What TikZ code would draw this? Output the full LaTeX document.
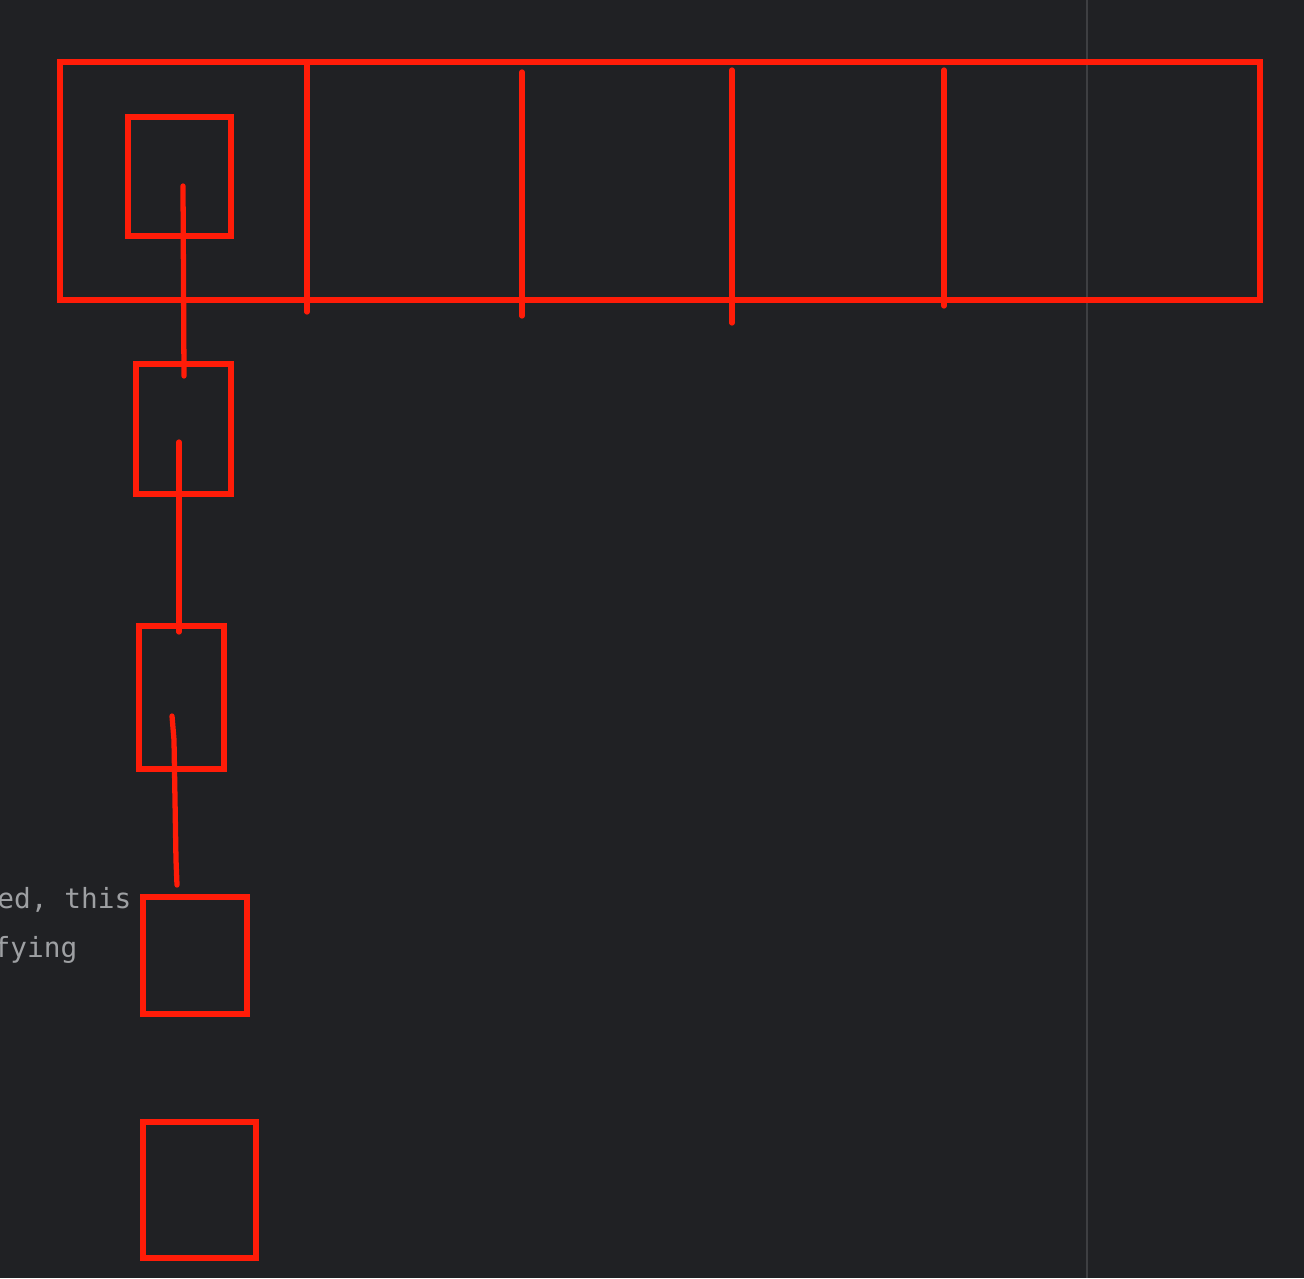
\documentclass[tikz,border=0pt]{standalone}
\usepackage{fontspec}
\setmonofont{DejaVu Sans Mono}
\definecolor{bgdark}{RGB}{32,33,36}
\definecolor{penred}{RGB}{255,28,8}
\definecolor{rulegrey}{RGB}{62,63,66}
\definecolor{textgrey}{RGB}{158,160,163}
\begin{document}
\begin{tikzpicture}[x=0.01cm,y=-0.01cm,
    pen/.style={draw=penred,line width=1.5pt,line cap=round},
    cell/.style={pen,inner sep=0pt,outer sep=0pt,anchor=north west}]
    % Background
    \fill[bgdark] (0,0) rectangle (1304,1278);
    \useasboundingbox (0,0) rectangle (1304,1278);
    \draw[rulegrey,line width=0.45pt] (1087,0) to (1087,1278);

    % Editor text
    \node at (132,908) [anchor=base east,inner sep=0pt,textgrey] {\ttfamily\fontsize{7.9}{9}\selectfont ed, this};
    \node at (78,957) [anchor=base east,inner sep=0pt,textgrey] {\ttfamily\fontsize{7.9}{9}\selectfont fying};

    % Table
    \draw[pen] (60,62) rectangle (1260,300);
    \draw[pen] (307,62) to (307,312);
    \draw[pen] (522,72) to (522,316);
    \draw[pen] (732,70) to (732,323);
    \draw[pen] (944,70) to (944,306);

    % Chain boxes
    \node (head) at (128,117) [cell,minimum width=1.03cm,minimum height=1.19cm] {};
    \node (link1) at (136,364) [cell,minimum width=0.95cm,minimum height=1.30cm] {};
    \node (link2) at (139,626) [cell,minimum width=0.85cm,minimum height=1.43cm] {};
    \node (link3) at (143,897) [cell,minimum width=1.04cm,minimum height=1.17cm] {};
    \node (link4) at (143,1122) [cell,minimum width=1.13cm,minimum height=1.36cm] {};

    % Pointers
    \coordinate (p0) at (183,186);
    \coordinate (q0) at (184,376);
    \coordinate (p1) at (179,442);
    \coordinate (q1) at (179,632);
    \coordinate (p2) at (172,716);
    \coordinate (q2) at (177,885);
    \draw[pen] (p0) to (q0);
    \draw[pen] (p1) to (q1);
    \draw[pen] (p2) -- (174,740) -- (176,860) -- (q2);
\end{tikzpicture}
\end{document}
